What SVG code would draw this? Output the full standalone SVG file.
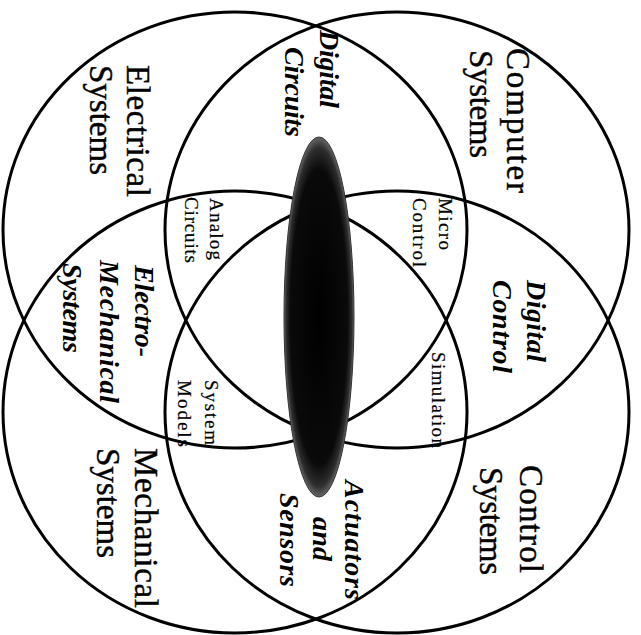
<svg xmlns="http://www.w3.org/2000/svg" width="641" height="635" viewBox="0 0 641 635">
<defs>
<radialGradient id="core" cx="0.5" cy="0.5" r="0.5">
<stop offset="0" stop-color="#000"/>
<stop offset="0.82" stop-color="#0a0a0a"/>
<stop offset="0.94" stop-color="#2e2e2e"/>
<stop offset="1" stop-color="#666"/>
</radialGradient>
</defs>
<style>
.c{fill:none;stroke:#000;stroke-width:3}
.big{font-family:"Liberation Serif","Times New Roman",serif;font-size:33px;fill:#000;stroke:#000;stroke-width:0.4}
.bi{font-family:"Liberation Serif","Times New Roman",serif;font-size:28px;font-weight:bold;font-style:italic;fill:#000}
.sm{font-family:"Liberation Serif","Times New Roman",serif;font-size:19px;fill:#000;stroke:#000;stroke-width:0.2}
</style>
<rect width="641" height="635" fill="#fff"/>
<g id="electrical">
<ellipse class="c" cx="235" cy="230" rx="232" ry="218"/>
<text class="big" transform="translate(127,65) rotate(90)" textLength="132" lengthAdjust="spacing">Electrical</text>
<text class="big" transform="translate(90,65) rotate(90)" textLength="110" lengthAdjust="spacing">Systems</text>
</g>
<g id="computer">
<ellipse class="c" cx="397" cy="230" rx="232" ry="218"/>
<text class="big" transform="translate(507,48) rotate(90)" textLength="145" lengthAdjust="spacing">Computer</text>
<text class="big" transform="translate(470,50) rotate(90)" textLength="108" lengthAdjust="spacing">Systems</text>
</g>
<g id="mechanical">
<ellipse class="c" cx="235" cy="412" rx="232" ry="221"/>
<text class="big" transform="translate(135,448) rotate(90)" textLength="160" lengthAdjust="spacing">Mechanical</text>
<text class="big" transform="translate(97,448) rotate(90)" textLength="110" lengthAdjust="spacing">Systems</text>
</g>
<g id="control">
<ellipse class="c" cx="397" cy="412" rx="232" ry="221"/>
<text class="big" transform="translate(520,465) rotate(90)" textLength="108" lengthAdjust="spacing">Control</text>
<text class="big" transform="translate(480,467) rotate(90)" textLength="108" lengthAdjust="spacing">Systems</text>
</g>
<g id="core-ellipse">
<ellipse cx="319" cy="317" rx="35" ry="180" fill="url(#core)" stroke="#333" stroke-width="1"/>
</g>
<g id="digital-circuits">
<text class="bi" transform="translate(320,30) rotate(90)" textLength="78" lengthAdjust="spacing">Digital</text>
<text class="bi" transform="translate(285,47) rotate(90)" textLength="90" lengthAdjust="spacing">Circuits</text>
</g>
<g id="digital-control">
<text class="bi" transform="translate(527,280) rotate(90)" textLength="82" lengthAdjust="spacing">Digital</text>
<text class="bi" transform="translate(493,280) rotate(90)" textLength="93" lengthAdjust="spacing">Control</text>
</g>
<g id="electro-mechanical">
<text class="bi" transform="translate(135,265) rotate(90)" textLength="92" lengthAdjust="spacing">Electro-</text>
<text class="bi" transform="translate(100,260) rotate(90)" textLength="143" lengthAdjust="spacing">Mechanical</text>
<text class="bi" transform="translate(63,263) rotate(90)" textLength="90" lengthAdjust="spacing">Systems</text>
</g>
<g id="actuators-sensors">
<text class="bi" transform="translate(345,480) rotate(90)" textLength="120" lengthAdjust="spacing">Actuators</text>
<text class="bi" transform="translate(313,517) rotate(90)" textLength="44" lengthAdjust="spacing">and</text>
<text class="bi" transform="translate(280,493) rotate(90)" textLength="94" lengthAdjust="spacing">Sensors</text>
</g>
<g id="analog-circuits">
<text class="sm" transform="translate(210,198) rotate(90)" textLength="62" lengthAdjust="spacing">Analog</text>
<text class="sm" transform="translate(185,197) rotate(90)" textLength="66" lengthAdjust="spacing">Circuits</text>
</g>
<g id="micro-control">
<text class="sm" transform="translate(439,198) rotate(90)" textLength="52" lengthAdjust="spacing">Micro</text>
<text class="sm" transform="translate(413,198) rotate(90)" textLength="69" lengthAdjust="spacing">Control</text>
</g>
<g id="system-models">
<text class="sm" transform="translate(205,380) rotate(90)" textLength="65" lengthAdjust="spacing">System</text>
<text class="sm" transform="translate(178,380) rotate(90)" textLength="67" lengthAdjust="spacing">Models</text>
</g>
<g id="simulation">
<text class="sm" transform="translate(432,352) rotate(90)" textLength="96" lengthAdjust="spacing">Simulation</text>
</g>
</svg>
